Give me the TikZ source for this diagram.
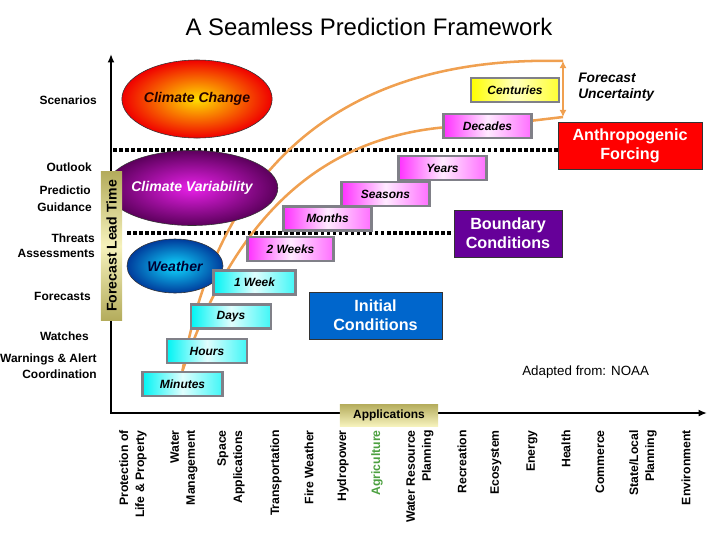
\documentclass[tikz,border=0pt]{standalone}
\usepackage{fontspec}
\setmainfont{Liberation Sans}
\usepackage{tikz}
\usetikzlibrary{arrows.meta, positioning, shapes.geometric, backgrounds}
\definecolor{uncorange}  {HTML}{F0A050}
\definecolor{tpink}      {HTML}{FF30FF}
\definecolor{tcyan}      {HTML}{00F4F4}
\definecolor{tyellow}    {HTML}{FFFF00}
\definecolor{tborder}    {HTML}{808088}
\definecolor{khaki}      {HTML}{B4AC5C}
\definecolor{khakilight} {HTML}{F6F2BC}
\definecolor{forcingred} {HTML}{FF0000}
\definecolor{boundpurple}{HTML}{660099}
\definecolor{initblue}   {HTML}{0066CC}
\definecolor{agrigreen}  {HTML}{4CA040}
\definecolor{ccyellow}   {HTML}{FFE000}
\definecolor{ccred}      {HTML}{F00000}
\definecolor{cvmagenta}  {HTML}{E820E8}
\definecolor{cvpurple}   {HTML}{5C005C}
\definecolor{wxcyan}     {HTML}{10D8FF}
\definecolor{wxblue}     {HTML}{003C9C}

\begin{document}
\begin{tikzpicture}[
    x=0.025cm, y=-0.025cm,
    timebox/.style={draw=tborder, line width=1.6pt, minimum width=2.2cm,
                    minimum height=0.6cm, inner sep=0pt,
                    font=\fontsize{8.5}{10}\selectfont\bfseries\itshape},
    pinkbox/.style={timebox, left color=tpink, right color=tpink!70,
                    middle color=tpink!10},
    cyanbox/.style={timebox, minimum width=2.05cm, left color=tcyan,
                    right color=tcyan!75, middle color=tcyan!12},
    blob/.style={ellipse, draw=black!80, thin, inner sep=0pt,
                 font=\fontsize{10}{12}\selectfont\bfseries\itshape},
    factor/.style={draw=black!80, thin, text=white, align=center,
                   minimum height=1.175cm, inner sep=0pt,
                   font=\fontsize{11.5}{13.5}\selectfont\bfseries},
    usage/.style={anchor=east, align=right, inner sep=0pt,
                  font=\fontsize{8.5}{10.5}\selectfont\bfseries},
    app/.style={rotate=90, anchor=east, align=right, inner sep=0pt,
                font=\fontsize{8.7}{11.4}\selectfont\bfseries},
    sep/.style={line width=2.5pt, dash pattern=on 2.5pt off 1.8pt},
    axisline/.style={line width=2pt, line join=miter,
                     {Latex[length=6pt,width=5pt]}-{Latex[length=6pt,width=5pt]}},
    unc/.style={draw=uncorange, line width=1.8pt},
  ]
    \useasboundingbox (0,0) rectangle (720,540);

    \node[font=\fontsize{17}{20}\selectfont] (title) at (369,27)
      {A Seamless Prediction Framework};

    % Phenomena
    \node[blob, minimum width=3.75cm, minimum height=1.95cm,
          inner color=ccyellow, outer color=ccred, text=black!85!red] (change)
      at (197,99) {Climate Change};
    \node[blob, minimum width=3.6cm, minimum height=1.875cm,
          inner color=cvmagenta, outer color=cvpurple, text=white] (variab)
      at (192,188) {Climate Variability};
    \node[blob, minimum width=2.4cm, minimum height=1.35cm,
          inner color=wxcyan, outer color=wxblue, text=black!80!blue] (weather)
      at (175,266) {Weather};

    % Lead time boxes, longest first
    \node[timebox, left color=tyellow, right color=tyellow!80,
          middle color=tyellow!25] (centuries) at (515,90) {Centuries};
    \node[pinkbox] (decades) at (487.5,126) {Decades};
    \node[pinkbox] (years)   at (442.5,168) {Years};
    \node[pinkbox] (seasons) at (385.5,194) {Seasons};
    \node[pinkbox] (months)  at (327.5,218.5) {Months};
    \node[pinkbox, minimum width=2.15cm] (weeks2) at (290.5,249) {2 Weeks};
    \node[cyanbox] (week1)   at (254.5,282.5) {1 Week};
    \node[cyanbox, minimum width=2cm] (days)    at (231,316.5) {Days};
    \node[cyanbox, minimum width=2cm] (hours)   at (207,351) {Hours};
    \node[cyanbox, minimum width=2cm] (minutes) at (182.5,384) {Minutes};

    % Sources of predictability
    \node[factor, fill=forcingred, minimum width=3.6cm] (forcing)
      at (630,145.5) {Anthropogenic\\Forcing};
    \node[factor, fill=boundpurple, minimum width=2.7cm] (boundary)
      at (508,233.5) {Boundary\\Conditions};
    \node[factor, fill=initblue, minimum width=3.325cm] (initial)
      at (375.5,315.5) {Initial\\Conditions};

    % Products, left of the axis
    \node[usage] (scen)    at (97,100) {Scenarios};
    \node[usage] (outlook) at (92,167) {Outlook};
    \node[usage] (pred)    at (91,190) {Predictio};
    \node[usage] (guid)    at (92,207) {Guidance};
    \node[usage] (threat)  at (95,246) {Threats\\Assessments};
    \node[usage] (fcst)    at (91,296) {Forecasts};
    \node[usage] (watch)   at (89,336) {Watches};
    \node[usage, font=\fontsize{8.5}{11.4}\selectfont\bfseries] (warn)
      at (97,366) {Warnings \& Alert\\Coordination};

    \node[rotate=90, minimum width=3.7cm, minimum height=0.525cm, inner sep=0pt,
          top color=khaki, bottom color=khaki, middle color=khakilight,
          font=\fontsize{10}{12}\selectfont\bfseries] (lead)
      at (111.5,246) {Forecast Lead Time};
    \node[minimum width=2.45cm, minimum height=0.55cm, inner sep=0pt,
          top color=khaki, bottom color=khakilight,
          font=\fontsize{8.5}{10}\selectfont\bfseries] (apps)
      at (389,415) {Applications};

    \coordinate (uncTop) at (563,61);
    \coordinate (uncBot) at (563,117);
    \node[anchor=west, align=left, inner sep=0pt,
          font=\fontsize{9.8}{11.4}\selectfont\bfseries\itshape] (unclabel)
      at (578,87) {Forecast\\Uncertainty};
    \node[anchor=west, inner sep=0pt, font=\fontsize{9.5}{11}\selectfont]
      (credit) at (522,372) {Adapted from: NOAA};

    % Applications, bottom row
    \node[app] (protect)   at (133,430) {Protection of\\Life \& Property};
    \node[app] (watermgmt) at (184,430) {Water\\Management};
    \node[app] (space)     at (231,430) {Space\\Applications};
    \node[app] (transport) at (276,430) {Transportation};
    \node[app] (fire)      at (309,430) {Fire Weather};
    \node[app] (hydro)     at (343,430) {Hydropower};
    \node[app, text=agrigreen] (agri) at (377,430) {Agriculture};
    \node[app] (waterres)  at (420,430) {Water Resource\\Planning};
    \node[app] (recre)     at (462,430) {Recreation};
    \node[app] (eco)       at (496,430) {Ecosystem};
    \node[app] (energy)    at (532,430) {Energy};
    \node[app] (health)    at (566,430) {Health};
    \node[app] (commerce)  at (600,430) {Commerce};
    \node[app] (state)     at (643,430) {State/Local\\Planning};
    \node[app] (environ)   at (686,430) {Environment};

    \begin{scope}[on background layer]
      \coordinate (ytop)   at (111,54);
      \coordinate (origin) at (111,413);
      \coordinate (xend)   at (707,413);
      \draw[axisline] (ytop) -- (origin) -- (xend);

      \coordinate (sepA) at (113,150);
      \coordinate (sepB) at (127,233);
      \draw[sep] (sepA) -- (sepA -| forcing.west);
      \draw[sep] (sepB) -- (sepB -| boundary.west);

      % uncertainty envelope
      \draw[unc, {Latex[length=5pt,width=5pt]}-{Latex[length=5pt,width=5pt]}]
        (uncTop) -- (uncBot);
      \draw[unc] (uncTop) .. controls (330,55) and (215,180) .. (minutes.north);
      \draw[unc] (uncBot) -- (decades.center)
        .. controls (340,122) and (240,200) .. (minutes.north);
    \end{scope}
  \end{tikzpicture}
\end{document}
